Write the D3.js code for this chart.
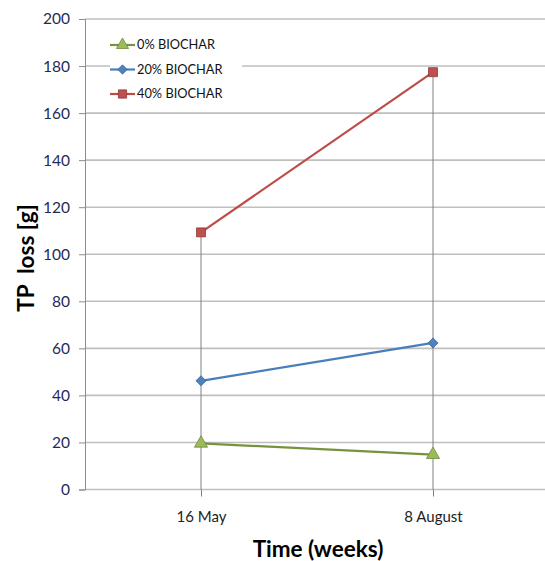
<!DOCTYPE html>
<html>
<head>
<meta charset="utf-8">
<script src="https://cdn.jsdelivr.net/npm/d3@7"></script>
<style>
  body { margin: 0; background: #fff; }
  svg { display: block; font-family: Lato, "Open Sans", sans-serif; }
</style>
</head>
<body>
<script>
const categories = ["16 May", "8 August"];
const seriesNames = ["0% BIOCHAR", "20% BIOCHAR", "40% BIOCHAR"];
const biochar0 = [19.6, 14.8];
const biochar20 = [46.2, 62.3];
const biochar40 = [109.3, 177.4];
const yTicks = [0, 20, 40, 60, 80, 100, 120, 140, 160, 180, 200];

const width = 545, height = 561;
const plotLeft = 85, plotTop = 19, plotBottom = 489.5;

const svg = d3.select("body").append("svg")
    .attr("width", width)
    .attr("height", height);

const x = d3.scalePoint()
    .domain(categories)
    .range([plotLeft, 549])
    .padding(0.5);

const y = d3.scaleLinear()
    .domain([0, 200])
    .range([plotBottom, plotTop]);

// gridlines
svg.append("g")
    .selectAll("line")
    .data(yTicks)
    .join("line")
    .attr("x1", plotLeft)
    .attr("x2", width)
    .attr("y1", d => y(d))
    .attr("y2", d => y(d))
    .attr("stroke", "#bfbfbf")
    .attr("stroke-width", 1.6);

// y axis
const yAxis = svg.append("g")
    .attr("transform", `translate(${plotLeft},0)`)
    .call(d3.axisLeft(y).tickValues(yTicks).tickSize(6).tickPadding(9));
yAxis.select(".domain").attr("stroke", "#8c8c8c");
yAxis.selectAll(".tick line").attr("stroke", "#8c8c8c");
yAxis.selectAll(".tick text")
    .attr("fill", "#1f2a5a")
    .style("font-size", "15.5px")
    .style("font-family", "Lato, 'Open Sans', sans-serif");

// x labels
const xAxis = svg.append("g")
    .attr("transform", `translate(0,${plotBottom})`)
    .call(d3.axisBottom(x).tickSize(7).tickPadding(15));
xAxis.select(".domain").remove();
xAxis.selectAll(".tick line").attr("stroke", "#808080");
xAxis.selectAll(".tick text")
    .attr("fill", "#222")
    .style("font-size", "15px")
    .style("font-family", "Lato, 'Open Sans', sans-serif");

const series = [
    { name: seriesNames[0], values: biochar0, line: "#77933c", fill: "#9bbb59", stroke: "#71893f", shape: d3.symbolTriangle, size: 75 },
    { name: seriesNames[1], values: biochar20, line: "#4a7ebb", fill: "#4f81bd", stroke: "#3a679e", shape: d3.symbolDiamond2, size: 65 },
    { name: seriesNames[2], values: biochar40, line: "#be4b48", fill: "#c0504d", stroke: "#8c3836", shape: d3.symbolSquare, size: 80 }
];

// drop lines from highest point down to axis
svg.append("g")
    .selectAll("line")
    .data(categories)
    .join("line")
    .attr("x1", d => x(d))
    .attr("x2", d => x(d))
    .attr("y1", (d, i) => y(d3.max(series, s => s.values[i])))
    .attr("y2", plotBottom)
    .attr("stroke", "#808080")
    .attr("stroke-width", 1);

const line = d3.line()
    .x((d, i) => x(categories[i]))
    .y(d => y(d));

series.forEach(s => {
    svg.append("path")
        .datum(s.values)
        .attr("d", line)
        .attr("fill", "none")
        .attr("stroke", s.line)
        .attr("stroke-width", 2.2);

    svg.append("g")
        .selectAll("path")
        .data(s.values)
        .join("path")
        .attr("transform", (d, i) => `translate(${x(categories[i])},${y(d)})`)
        .attr("d", d3.symbol().type(s.shape).size(s.size))
        .attr("fill", s.fill)
        .attr("stroke", s.stroke)
        .attr("stroke-width", 0.8);
});

// legend
const legend = svg.append("g")
    .attr("transform", "translate(110,45)")
    .selectAll("g")
    .data(series)
    .join("g")
    .attr("transform", (d, i) => `translate(0,${i * 24.5})`);

legend.append("rect")
    .attr("x", 0)
    .attr("y", -8)
    .attr("width", 132)
    .attr("height", 16)
    .attr("fill", "#fff");

legend.append("line")
    .attr("x1", 0)
    .attr("x2", 25)
    .attr("stroke", d => d.line)
    .attr("stroke-width", 2.2);

legend.append("path")
    .attr("transform", "translate(12.5,0)")
    .attr("d", d => d3.symbol().type(d.shape).size(d.size * 0.85)())
    .attr("fill", d => d.fill)
    .attr("stroke", d => d.stroke)
    .attr("stroke-width", 0.8);

legend.append("text")
    .attr("x", 27)
    .attr("dy", "0.35em")
    .attr("fill", "#111")
    .style("font-size", "12.8px")
    .text(d => d.name);

// axis titles
svg.append("text")
    .attr("transform", "translate(34,258) rotate(-90)")
    .attr("text-anchor", "middle")
    .style("font-size", "22.5px")
    .style("font-weight", "bold")
    .style("white-space", "pre")
    .text("TP  loss [g]");

svg.append("text")
    .attr("x", 318)
    .attr("y", 557)
    .attr("text-anchor", "middle")
    .style("font-size", "22.5px")
    .style("font-weight", "bold")
    .text("Time (weeks)");
</script>
</body>
</html>
